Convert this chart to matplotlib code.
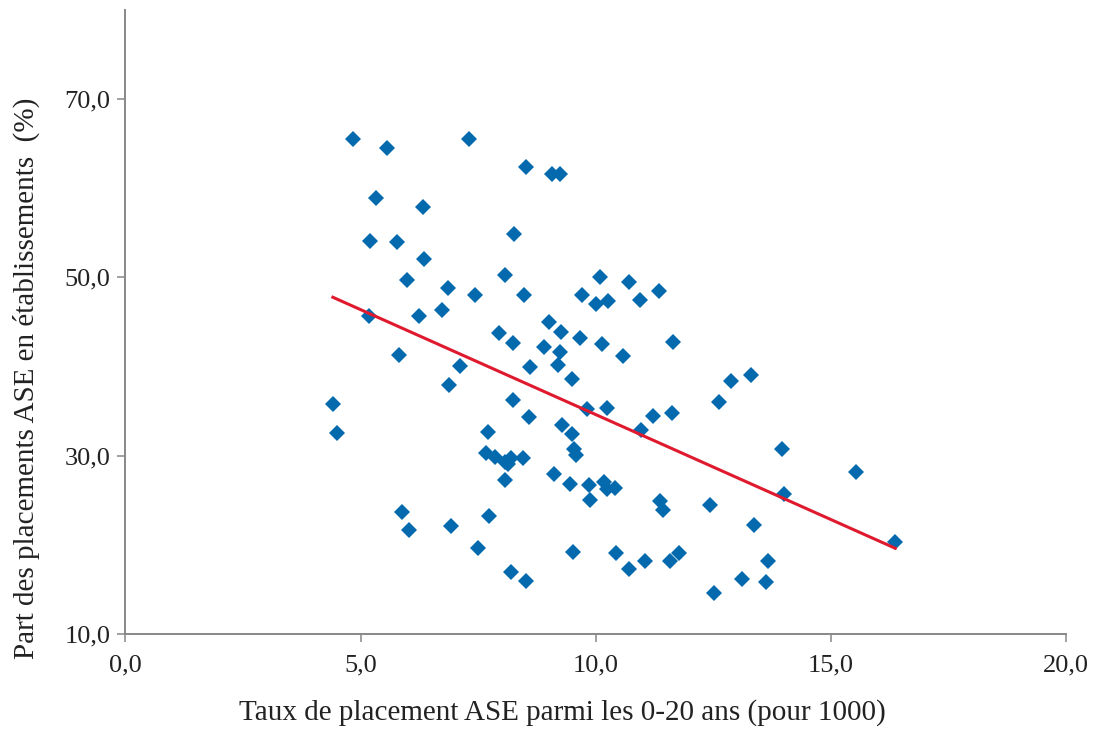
import numpy as np
import matplotlib
matplotlib.use("Agg")
import matplotlib.pyplot as plt

# Taux de placement ASE (pour 1000) et part des placements en établissements (%)
taux = [4.84, 5.57, 7.31, 8.51, 9.06, 9.25, 5.32, 6.33, 8.27, 5.19,
        5.77, 6.34, 5.98, 8.06, 6.85, 7.44, 8.48, 5.17, 6.25, 6.74,
        7.95, 8.23, 8.91, 9.01, 5.81, 10.08, 10.70, 11.35, 9.71, 10.01,
        10.27, 10.94, 9.26, 9.66, 10.14, 11.65, 9.25, 10.57, 7.12, 6.87,
        8.25, 8.59, 8.61, 4.41, 4.50, 7.70, 7.67, 7.85, 8.06, 8.13,
        8.20, 8.45, 8.06, 5.89, 6.03, 6.93, 7.73, 7.49, 8.20, 8.52,
        9.19, 9.49, 12.87, 13.31, 12.62, 9.81, 10.24, 11.21, 11.63, 10.96,
        9.28, 9.49, 9.54, 9.59, 13.97, 9.12, 9.46, 9.85, 10.17, 10.24,
        10.41, 9.88, 11.37, 11.42, 12.43, 14.00, 13.37, 9.51, 10.44, 10.70,
        11.05, 11.58, 11.78, 13.67, 13.10, 13.61, 12.52, 15.53, 16.37]
part = [65.5, 64.5, 65.5, 62.4, 61.6, 61.55, 58.9, 57.9, 54.9, 54.1,
        54.0, 52.1, 49.7, 50.3, 48.8, 48.05, 48.0, 45.7, 45.7, 46.3,
        43.8, 42.6, 42.2, 45.0, 41.3, 50.0, 49.5, 48.5, 48.0, 47.0,
        47.4, 47.5, 43.9, 43.2, 42.5, 42.8, 41.6, 41.2, 40.1, 37.9,
        36.2, 34.3, 39.9, 35.8, 32.5, 32.7, 30.3, 29.9, 29.3, 29.1,
        29.7, 29.7, 27.3, 23.7, 21.7, 22.1, 23.2, 19.6, 17.0, 15.9,
        40.2, 38.6, 38.4, 39.0, 36.05, 35.2, 35.4, 34.5, 34.8, 32.9,
        33.5, 32.4, 30.8, 30.1, 30.8, 27.9, 26.8, 26.7, 27.1, 26.3,
        26.4, 25.0, 24.95, 23.9, 24.5, 25.7, 22.2, 19.2, 19.05, 17.3,
        18.2, 18.2, 19.05, 18.15, 16.2, 15.8, 14.6, 28.2, 20.3]

x_ticks = [0, 5, 10, 15, 20]
x_tick_labels = ["0,0", "5,0", "10,0", "15,0", "20,0"]
y_ticks = [10, 30, 50, 70]
y_tick_labels = ["10,0", "30,0", "50,0", "70,0"]

plt.rcParams["font.family"] = ["Liberation Serif", "DejaVu Serif"]

fig = plt.figure(figsize=(10.93, 7.29), dpi=100)
ax = fig.add_axes([0.1148, 0.1303, 0.8605, 0.856])

ax.plot(taux, part, "D", color="#0569AE", markersize=8, markeredgewidth=0, zorder=3)

# linear trend line over the data range
coef = np.polyfit(taux, part, 1)
xs = np.array([min(taux), max(taux)])
ax.plot(xs, np.polyval(coef, xs), color="#E01A2E", linewidth=2.2, zorder=4)

ax.set_xlim(0, 20)
ax.set_ylim(10, 80)
ax.set_xticks(x_ticks)
ax.set_xticklabels(x_tick_labels)
ax.set_yticks(y_ticks)
ax.set_yticklabels(y_tick_labels)

for side in ["top", "right"]:
    ax.spines[side].set_visible(False)
for side in ["left", "bottom"]:
    ax.spines[side].set_color("#888888")
    ax.spines[side].set_linewidth(1.4)

ax.tick_params(axis="both", direction="out", length=6, width=1.1,
               color="#888888", labelsize=19, labelcolor="#222222")
ax.tick_params(axis="x", pad=9)
ax.tick_params(axis="y", pad=5)

ax.set_xlabel("Taux de placement ASE parmi les 0-20 ans (pour 1000)",
              fontsize=21, color="#222222")
ax.set_ylabel("Part des placements ASE en établissements  (%)",
              fontsize=21, color="#222222")
ax.xaxis.set_label_coords(0.465, -0.104)
ax.yaxis.set_label_coords(-0.091, 0.41)

fig.savefig("out.png", dpi=100)
